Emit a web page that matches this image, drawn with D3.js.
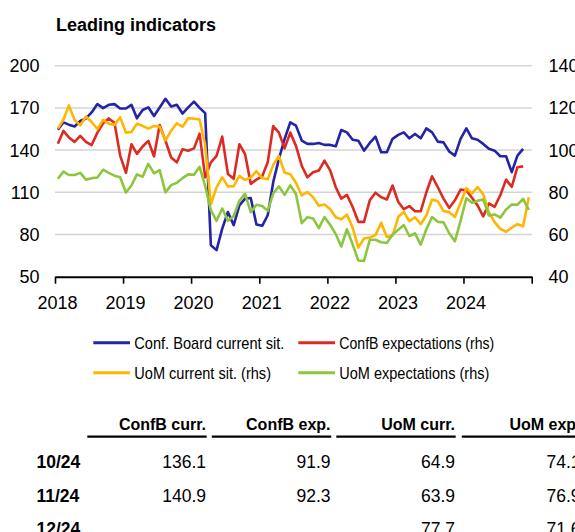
<!DOCTYPE html>
<html>
<head>
<meta charset="utf-8">
<script src="https://cdn.jsdelivr.net/npm/d3@7"></script>
<style>
  html, body { margin: 0; padding: 0; background: #fff; }
  svg { display: block; font-family: "Liberation Sans", Arial, sans-serif; }
</style>
</head>
<body>
<svg id="chart" width="575" height="532"></svg>
<script>
// ---------- DATA ----------
const startMonth = new Date(2018, 0, 1);
const endMonth = new Date(2025, 0, 1);
const yearTicks = [2018, 2019, 2020, 2021, 2022, 2023, 2024, 2025];
const yearLabels = ["2018", "2019", "2020", "2021", "2022", "2023", "2024", ""];
const leftTicks = [50, 80, 110, 140, 170, 200];
const rightTicks = [40, 60, 80, 100, 120, 140];

// Conference Board present situation (lhs), Jan 2018 - Nov 2024
const confbCurrent = [
  154.5, 159.7, 158.1, 156.8, 160.7, 162.5, 166.8, 172.7, 169.8, 172.2, 172.7, 169.6,
  169.6, 172.2, 162.6, 168.5, 170.4, 164.3, 170.3, 176.5, 171.0, 172.2, 166.0, 170.3,
  174.5, 170.0, 166.3, 72.4, 68.9, 84.2, 96.0, 86.6, 100.7, 105.5, 105.9, 87.1,
  86.2, 93.7, 117.2, 133.8, 147.9, 159.7, 157.4, 146.8, 144.4, 144.4, 145.1, 143.7,
  143.7, 142.7, 154.3, 152.6, 147.4, 146.7, 139.6, 145.1, 149.6, 138.5, 138.5, 148.0,
  150.8, 152.6, 148.4, 151.5, 148.4, 155.4, 152.6, 146.0, 145.5, 139.0, 136.1, 148.0,
  155.4, 148.4, 147.4, 144.4, 140.9, 139.6, 135.6, 135.6, 124.3, 136.1, 140.9
];
// Conference Board expectations (rhs)
const confbExpect = [
  103.0, 109.1, 106.0, 103.9, 106.7, 103.9, 102.4, 108.3, 112.7, 115.0, 113.0, 97.4,
  89.2, 102.8, 98.2, 101.7, 104.4, 97.0, 111.9, 104.4, 96.5, 94.2, 100.4, 99.7,
  100.8, 107.8, 87.1, 94.2, 97.3, 106.4, 88.7, 86.4, 102.8, 98.1, 84.0, 86.0,
  87.6, 94.2, 111.4, 108.3, 100.8, 108.3, 102.0, 92.6, 87.1, 89.5, 90.3, 95.0,
  90.3, 82.4, 77.0, 78.8, 73.0, 66.0, 66.0, 76.2, 79.8, 77.7, 76.6, 83.2,
  75.4, 72.0, 73.5, 71.0, 71.0, 80.0, 87.6, 82.4, 77.0, 72.6, 76.2, 81.3,
  81.0, 77.4, 73.8, 68.6, 74.7, 73.1, 78.6, 86.0, 82.6, 91.9, 92.3
];
// University of Michigan current conditions (rhs), Jan 2018 - Dec 2024
const uomCurrent = [
  110.2, 114.4, 121.2, 114.3, 111.7, 115.9, 113.3, 110.0, 114.3, 112.5, 111.9, 115.5,
  108.3, 108.6, 112.5, 111.5, 110.2, 111.4, 111.1, 104.6, 109.2, 112.7, 111.1, 115.1,
  114.9, 114.5, 102.5, 74.3, 82.3, 87.1, 82.8, 82.9, 87.8, 85.9, 87.0, 90.0,
  86.7, 86.2, 93.0, 97.2, 89.4, 88.6, 84.5, 78.5, 80.1, 77.7, 73.6, 74.2,
  72.0, 68.2, 67.2, 69.4, 63.3, 53.8, 58.1, 58.6, 59.7, 65.6, 58.8, 59.4,
  68.4, 70.7, 66.3, 68.2, 64.9, 69.0, 76.6, 75.7, 71.1, 70.6, 68.3, 75.0,
  81.9, 79.4, 82.5, 79.0, 70.5, 65.9, 62.7, 61.3, 63.3, 64.9, 63.9, 77.7
];
// University of Michigan expectations (rhs)
const uomExpect = [
  86.4, 89.8, 88.2, 88.2, 89.2, 86.0, 86.7, 87.0, 90.7, 89.2, 87.9, 87.1,
  79.9, 83.2, 88.5, 87.4, 93.5, 89.0, 90.5, 79.9, 83.4, 84.5, 86.7, 88.5,
  88.3, 92.1, 83.0, 71.5, 66.5, 72.3, 66.5, 68.8, 76.0, 79.3, 70.6, 74.1,
  73.5, 71.2, 79.5, 82.8, 78.8, 83.3, 79.2, 65.4, 68.2, 67.6, 63.0, 68.3,
  64.5, 60.2, 54.3, 62.5, 55.3, 47.7, 47.5, 57.5, 57.5, 56.3, 56.0, 60.0,
  62.3, 64.5, 59.3, 60.5, 55.2, 62.5, 68.3, 66.0, 65.8, 60.6, 56.8, 66.5,
  77.2, 75.0, 76.0, 76.6, 69.0, 69.5, 68.0, 71.8, 74.2, 74.1, 76.9, 71.6
];

const seriesNames = ["Conf. Board current sit.", "ConfB expectations (rhs)", "UoM current sit. (rhs)", "UoM expectations (rhs)"];
const seriesColors = ["#2424a6", "#dc2b22", "#ffb600", "#8cc63e"];

const tableHeaders = ["ConfB curr.", "ConfB exp.", "UoM curr.", "UoM exp."];
const tableRowLabels = ["10/24", "11/24", "12/24"];
const tableValues = [
  ["136.1", "91.9", "64.9", "74.1"],
  ["140.9", "92.3", "63.9", "76.9"],
  ["", "", "77.7", "71.6"]
];

// ---------- LAYOUT ----------
const svg = d3.select("#chart");
const plotLeft = 55, plotRight = 531.7, plotTop = 65.7, plotBottom = 276.7;

const x = d3.scaleTime().domain([startMonth, endMonth]).range([plotLeft, plotRight]);
const yL = d3.scaleLinear().domain([50, 200]).range([plotBottom, plotTop]);
const yR = d3.scaleLinear().domain([40, 140]).range([plotBottom, plotTop]);

function midMonth(i) {
  const a = d3.timeMonth.offset(startMonth, i);
  const b = d3.timeMonth.offset(startMonth, i + 1);
  return new Date((a.getTime() + b.getTime()) / 2);
}

// Title
svg.append("text")
  .attr("x", 56).attr("y", 31)
  .attr("font-size", 18).attr("font-weight", "bold").attr("fill", "#000")
  .text("Leading indicators");

// Gridlines
svg.append("g").selectAll("line")
  .data(leftTicks.filter(t => t > 50))
  .join("line")
  .attr("x1", plotLeft).attr("x2", plotRight)
  .attr("y1", d => yL(d)).attr("y2", d => yL(d))
  .attr("stroke", "#d4d4d4").attr("stroke-width", 1.5);

// Left tick labels
svg.append("g").selectAll("text")
  .data(leftTicks)
  .join("text")
  .attr("x", 39.5).attr("y", d => yL(d)).attr("dy", "0.36em")
  .attr("text-anchor", "end").attr("font-size", 18).attr("fill", "#000")
  .text(d => d);

// Right tick labels
svg.append("g").selectAll("text")
  .data(rightTicks)
  .join("text")
  .attr("x", 548.5).attr("y", d => yR(d)).attr("dy", "0.36em")
  .attr("text-anchor", "start").attr("font-size", 18).attr("fill", "#000")
  .text(d => d);

// X axis
const xAxis = d3.axisBottom(x)
  .tickValues(yearTicks.map(y => new Date(y, 0, 1)))
  .tickSizeInner(7).tickSizeOuter(0).tickPadding(12.5)
  .tickFormat((d, i) => yearLabels[i]);
const gx = svg.append("g").attr("transform", `translate(0,${plotBottom})`).call(xAxis);
gx.select(".domain").attr("stroke", "#000").attr("stroke-width", 2);
gx.selectAll(".tick line").attr("stroke", "#000").attr("stroke-width", 1.6);
gx.selectAll(".tick text").attr("font-size", 18).attr("fill", "#000")
  .attr("font-family", "Liberation Sans, Arial, sans-serif").attr("dx", 2);

// Lines
const allSeries = [
  { values: confbCurrent, scale: yL },
  { values: confbExpect, scale: yR },
  { values: uomCurrent, scale: yR },
  { values: uomExpect, scale: yR }
];
allSeries.forEach((s, k) => {
  const line = d3.line()
    .x((d, i) => x(midMonth(i)))
    .y(d => s.scale(d));
  svg.append("path")
    .datum(s.values)
    .attr("d", line)
    .attr("fill", "none")
    .attr("stroke", seriesColors[k])
    .attr("stroke-width", 2.6)
    .attr("stroke-linejoin", "round");
});

// Legend
const legendItems = [
  { k: 0, lx: 93.3, ly: 342.7, tw: 150 },
  { k: 1, lx: 298.3, ly: 342.7, tw: 155 },
  { k: 2, lx: 93.3, ly: 372.7, tw: 136.7 },
  { k: 3, lx: 298.3, ly: 372.7, tw: 150 }
];
const lg = svg.append("g");
legendItems.forEach(it => {
  lg.append("line")
    .attr("x1", it.lx).attr("x2", it.lx + 36.7)
    .attr("y1", it.ly).attr("y2", it.ly)
    .attr("stroke", seriesColors[it.k]).attr("stroke-width", 3);
  lg.append("text")
    .attr("x", it.lx + 41).attr("y", it.ly + 6.4)
    .attr("font-size", 17).attr("fill", "#000")
    .attr("textLength", it.tw).attr("lengthAdjust", "spacingAndGlyphs")
    .text(seriesNames[it.k]);
});

// Table
const colRight = [206, 330.5, 455, 580.5];
const colWidth = 119.4;
const tg = svg.append("g");
tableHeaders.forEach((h, c) => {
  tg.append("text")
    .attr("x", colRight[c]).attr("y", 430.3)
    .attr("text-anchor", "end").attr("font-size", 16).attr("font-weight", "bold")
    .attr("fill", "#000").text(h);
  tg.append("line")
    .attr("x1", colRight[c] - colWidth + 0.7).attr("x2", colRight[c] + 0.7)
    .attr("y1", 436.7).attr("y2", 436.7)
    .attr("stroke", "#000").attr("stroke-width", 2.2);
});
const rowY = [468.3, 501.5, 534.6];
tableRowLabels.forEach((r, j) => {
  tg.append("text")
    .attr("x", 36.5).attr("y", rowY[j])
    .attr("font-size", 17.5).attr("font-weight", "bold").attr("fill", "#000")
    .text(r);
  tableValues[j].forEach((v, c) => {
    if (!v) return;
    tg.append("text")
      .attr("x", colRight[c]).attr("y", rowY[j])
      .attr("text-anchor", "end").attr("font-size", 17.5).attr("fill", "#000")
      .text(v);
  });
});
</script>
</body>
</html>
